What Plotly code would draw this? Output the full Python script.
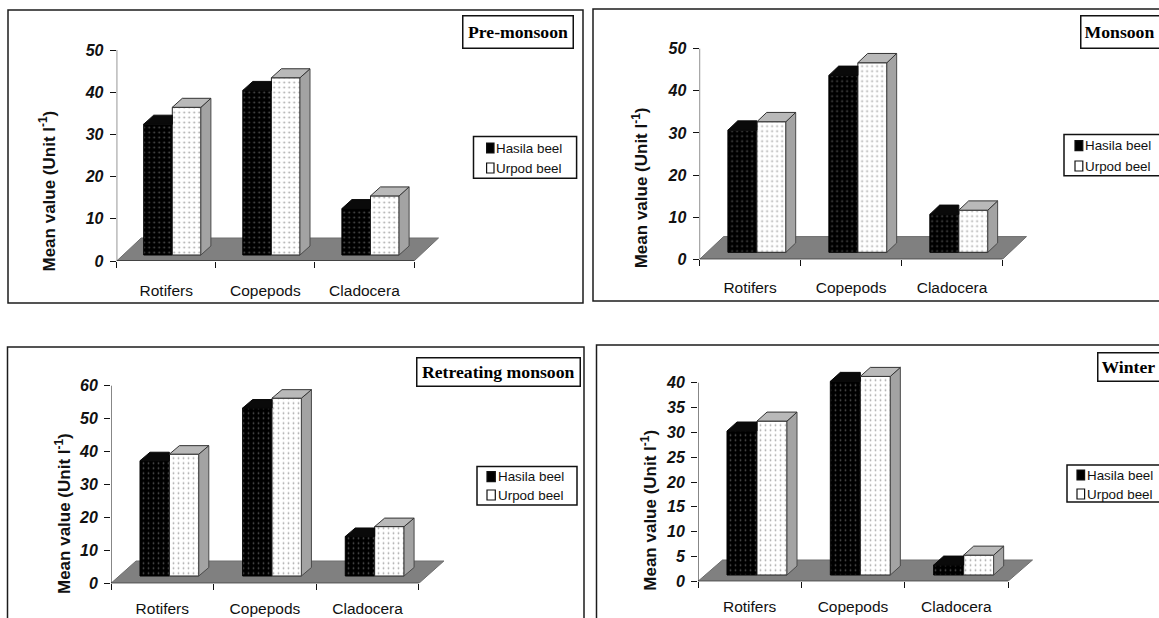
import plotly.graph_objects as go

W, H = 1159, 618

categories = ["Rotifers", "Copepods", "Cladocera"]
series_names = ["Hasila beel", "Urpod beel"]
panel_titles = ["Pre-monsoon", "Monsoon", "Retreating monsoon", "Winter"]
y_title = "Mean value (Unit l<sup>-1</sup>)"

hasila_pre = [31, 39, 11]
urpod_pre = [35, 42, 14]
hasila_monsoon = [29, 42, 9]
urpod_monsoon = [31, 45, 10]
hasila_retreat = [35, 51, 12]
urpod_retreat = [37, 54, 15]
hasila_winter = [29, 39, 2]
urpod_winter = [31, 40, 4]

ticks_pre = [0, 10, 20, 30, 40, 50]
ticks_monsoon = [0, 10, 20, 30, 40, 50]
ticks_retreat = [0, 10, 20, 30, 40, 50, 60]
ticks_winter = [0, 5, 10, 15, 20, 25, 30, 35, 40]

# Layout of each panel, in page pixels
panels = [
    dict(h=hasila_pre, u=urpod_pre, ticks=ticks_pre, x0=116.7, x3=414, y0=261, ytop=50,
         frame=(8, 10, 583, 303), floor=(24.5, 23), base=6, group=27, bw=28.6, depth=(10, 9),
         leg=(473.5, 136.5, 576.6, 178.3), swatch=(486.6, 7.4), ltext=496.8, lrows=(148, 168),
         title=(462, 15, 109, 31), talign=("center", 0), ytitle=(48, 190.5), gap=15),
    dict(h=hasila_monsoon, u=urpod_monsoon, ticks=ticks_monsoon, x0=699.6, x3=1002.5, y0=259.3, ytop=48.7,
         frame=(593, 9, 1175, 301), floor=(24, 22.7), base=7, group=28.3, bw=29, depth=(9.8, 9.3),
         leg=(1064, 134.5, 1175, 175.7), swatch=(1075, 7.8), ltext=1086, lrows=(145.7, 166),
         title=(1080, 15.5, 90, 25), talign=("left", 3), ytitle=(640.8, 187.5), gap=14),
    dict(h=hasila_retreat, u=urpod_retreat, ticks=ticks_retreat, x0=111, x3=418.9, y0=583.3, ytop=385.7,
         frame=(7.5, 347, 584, 660), floor=(25, 22.3), base=7.3, group=29, bw=29.4, depth=(10, 8.5),
         leg=(477, 466.5, 577, 505), swatch=(487, 8.3), ltext=498.7, lrows=(476.7, 495),
         title=(416, 356.5, 161.5, 26.5), talign=("center", 0), ytitle=(63, 514), gap=11),
    dict(h=hasila_winter, u=urpod_winter, ticks=ticks_winter, x0=698, x3=1008, y0=581.3, ytop=382.7,
         frame=(596.5, 345, 1175, 660), floor=(24.5, 21.3), base=6.3, group=29, bw=30, depth=(10, 9),
         leg=(1067, 465, 1175, 502), swatch=(1077, 7.6), ltext=1088, lrows=(475, 494),
         title=(1097, 351.5, 80, 21), talign=("left", 3), ytitle=(649, 510.7), gap=11),
]

SANS = "Liberation Sans, Arial, sans-serif"
fig = go.Figure()
shapes, annotations = [], []
layout = {}
xp = lambda v: v / W
yp = lambda v: 1 - v / H


def poly(xs, ys, fill, line, width, ax, ay):
    fig.add_trace(go.Scatter(x=xs + xs[:1], y=ys + ys[:1], mode="lines", fill="toself", fillcolor=fill,
                             line=dict(color=line, width=width), xaxis=ax, yaxis=ay,
                             hoverinfo="skip", showlegend=False, cliponaxis=False))


for i, p in enumerate(panels):
    n = "" if i == 0 else str(i + 1)
    ax, ay = "x" + n, "y" + n
    cat = (p["x3"] - p["x0"]) / 3
    ymax = p["ticks"][-1]
    scale = (p["y0"] - p["ytop"]) / ymax
    xr_px = p["x3"] + p["floor"][0] + 2
    top_px = p["ytop"] - 30
    x_range = (xr_px - p["x0"]) / cat
    y_range = (p["y0"] - top_px) / scale
    base = p["base"] / scale
    left = p["group"] / cat
    bw = p["bw"] / cat
    dx, dy = p["depth"][0] / cat, p["depth"][1] / scale
    fx, fy = p["floor"][0] / cat, p["floor"][1] / scale

    fig.add_trace(go.Bar(x=[0, 1, 2], y=p["h"], base=base, offset=left, width=bw, name=series_names[0],
                         xaxis=ax, yaxis=ay, showlegend=False,
                         marker=dict(color="#000000", line=dict(color="#000000", width=1),
                                     pattern=dict(shape=".", bgcolor="#000000", fgcolor="#505050",
                                                  size=5, solidity=0.1, fillmode="replace"))))
    fig.add_trace(go.Bar(x=[0, 1, 2], y=p["u"], base=base, offset=left + bw, width=bw, name=series_names[1],
                         xaxis=ax, yaxis=ay, showlegend=False,
                         marker=dict(color="#ffffff", line=dict(color="#222222", width=1),
                                     pattern=dict(shape=".", bgcolor="#ffffff", fgcolor="#a8a8a8",
                                                  size=5, solidity=0.1, fillmode="replace"))))

    for c, (hv, uv) in enumerate(zip(p["h"], p["u"])):
        hl = c + left
        ul = hl + bw
        ur = ul + bw
        ht, ut = base + hv, base + uv
        poly([hl, hl + dx, ul, ul], [ht, ht + dy, ht + dy, ht], "#0a0a0a", "#0a0a0a", 1, ax, ay)
        poly([ur, ur + dx, ur + dx, ur], [base, base + dy, ut + dy, ut], "#a3a3a3", "#4a4a4a", 1, ax, ay)
        poly([ul, ul + dx, ur + dx, ur], [ut, ut + dy, ut + dy, ut], "#b9b9b9", "#333333", 1, ax, ay)

    layout["xaxis" + n] = dict(
        domain=[xp(p["x0"]), xp(xr_px)], range=[0, x_range], anchor=ay,
        tickmode="array", tickvals=[0.5, 1.5, 2.5], ticktext=categories,
        ticks="outside", ticklen=p["gap"], tickcolor="rgba(0,0,0,0)",
        tickfont=dict(family=SANS, size=15.5, color="#111111"),
        minor=dict(tickmode="array", tickvals=[0, 1, 2, 3], ticks="outside", ticklen=6,
                   tickcolor="#111111", tickwidth=1),
        showgrid=False, zeroline=False, showline=False, fixedrange=True)
    layout["yaxis" + n] = dict(
        domain=[yp(p["y0"]), yp(top_px)], range=[0, y_range], anchor=ax,
        tickmode="array", tickvals=p["ticks"], ticks="outside", ticklen=6,
        tickcolor="#111111", tickwidth=1, ticklabelstandoff=3,
        tickfont=dict(family=SANS, size=16, color="#111111", weight="bold", style="italic"),
        showgrid=False, zeroline=False, showline=False, fixedrange=True)

    # frame, floor, axis lines
    f = p["frame"]
    shapes.append(dict(type="rect", xref="paper", yref="paper", x0=xp(f[0]), x1=xp(f[2]), y0=yp(f[1]), y1=yp(f[3]),
                       line=dict(color="#1c1c1c", width=1.5), layer="below"))
    shapes.append(dict(type="path", xref=ax, yref=ay, layer="below",
                       path=f"M 0 0 L {fx} {fy} L {3 + fx} {fy} L 3 0 Z",
                       fillcolor="#808080", line=dict(color="#6e6e6e", width=1)))
    shapes.append(dict(type="line", xref=ax, yref=ay, x0=0, x1=0, y0=0, y1=ymax, line=dict(color="#111111", width=1)))
    shapes.append(dict(type="line", xref=ax, yref=ay, x0=0, x1=3, y0=0, y1=0, line=dict(color="#111111", width=1)))

    # panel title box
    t = p["title"]
    annotations.append(dict(text=f"<b>{panel_titles[i]}</b>", xref="paper", yref="paper",
                            x=xp(t[0]), y=yp(t[1]), xanchor="left", yanchor="top", width=t[2], height=t[3],
                            align=p["talign"][0], valign="middle", showarrow=False, bgcolor="#ffffff",
                            bordercolor="#111111", borderwidth=1.5, borderpad=p["talign"][1],
                            font=dict(family="Liberation Serif, serif", size=17.7, color="#000000")))
    # y title
    yt = p["ytitle"]
    annotations.append(dict(text=f"<b>{y_title}</b>", xref="paper", yref="paper", x=xp(yt[0]), y=yp(yt[1]),
                            textangle=-90, showarrow=False, xanchor="center", yanchor="middle",
                            font=dict(family=SANS, size=17, color="#111111")))
    # legend box
    lg = p["leg"]
    shapes.append(dict(type="rect", xref="paper", yref="paper", x0=xp(lg[0]), x1=xp(lg[2]), y0=yp(lg[1]), y1=yp(lg[3]),
                       fillcolor="#ffffff", line=dict(color="#111111", width=1.5), layer="below"))
    for row, (name, fill) in zip(p["lrows"], zip(series_names, ["#000000", "#ffffff"])):
        sx, sw = p["swatch"]
        shapes.append(dict(type="rect", xref="paper", yref="paper", x0=xp(sx), x1=xp(sx + sw),
                           y0=yp(row - 5), y1=yp(row + 5), fillcolor=fill,
                           line=dict(color="#111111", width=1.2)))
        annotations.append(dict(text=name, xref="paper", yref="paper", x=xp(p["ltext"]), y=yp(row),
                                xanchor="left", yanchor="middle", showarrow=False, borderpad=0, borderwidth=0,
                                xshift=-1, font=dict(family=SANS, size=13.4, color="#111111")))

fig.update_layout(width=W, height=H, margin=dict(l=0, r=0, t=0, b=0, pad=0, autoexpand=False),
                  paper_bgcolor="#ffffff", plot_bgcolor="rgba(0,0,0,0)", barmode="overlay",
                  showlegend=False, shapes=shapes, annotations=annotations, hovermode=False, **layout)

fig.write_html("out.html", config=dict(displayModeBar=False),
               post_script="document.body.style.margin='0';document.body.style.overflow='hidden';")
